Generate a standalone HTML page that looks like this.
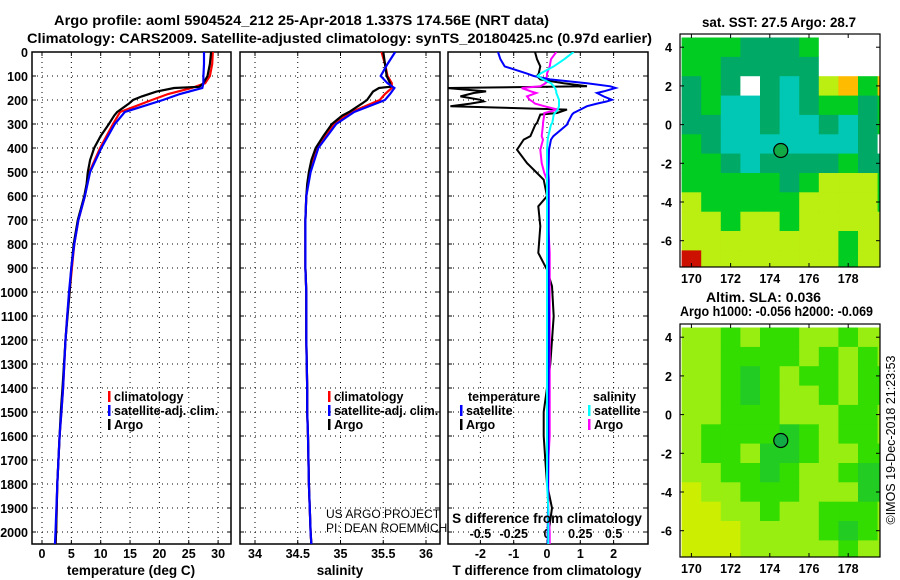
<!DOCTYPE html>
<html><head><meta charset="utf-8"><style>
html,body{margin:0;padding:0;background:#fff;}
svg{display:block;font-family:"Liberation Sans",sans-serif;}
.b{font-weight:bold;font-size:12.5px;}
.t{font-weight:bold;font-size:13.5px;}
</style></head><body>
<svg id="s" width="900" height="580" viewBox="0 0 900 580">
<text class="t" x="54" y="25" textLength="495" lengthAdjust="spacingAndGlyphs">Argo profile: aoml 5904524_212 25-Apr-2018 1.337S 174.56E (NRT data)</text>
<text class="t" x="27" y="43" textLength="625" lengthAdjust="spacingAndGlyphs">Climatology: CARS2009. Satellite-adjusted climatology: synTS_20180425.nc (0.97d earlier)</text>
<g id="maps"></g>
<g id="plots"></g>
</svg>
<script>
// ---------- data ----------
const depthC = [0,50,100,130,150,175,200,250,300,400,500,600,700,800,900,1000,1100,1200,1400,1500,1600,1800,2000,2055];
const tempClim = [29.1,29.0,28.6,27.8,25.5,21.5,18.7,13.3,12.1,9.9,8.1,7.3,6.2,5.5,5.1,4.7,4.3,4.0,3.6,3.3,3.0,2.6,2.4,2.3];
const tempSat  = [27.6,27.6,27.5,27.5,27.3,23.5,20.6,14.1,12.4,10.1,8.2,7.3,6.2,5.5,5.0,4.6,4.3,4.0,3.6,3.3,3.0,2.6,2.3,2.2];
const depthA = [0,50,100,130,145,150,165,185,200,215,250,265,300,350,400,450,500,550,600,700,800,900,1000,1200,1400,1500,1600,1800,2000,2055];
const tempArgo = [28.8,28.6,28.2,27.5,26.8,22.5,19.5,17.0,15.5,14.8,12.8,12.3,11.4,10.0,8.9,8.2,7.8,7.6,7.2,6.1,5.4,5.0,4.7,4.0,3.5,3.2,3.0,2.6,2.4,2.3];
const salClim = [35.48,35.52,35.55,35.6,35.6,35.52,35.46,35.13,34.92,34.72,34.64,34.60,34.59,34.59,34.59,34.6,34.6,34.6,34.61,34.61,34.62,34.63,34.65,34.66];
const salSat  = [35.64,35.55,35.47,35.55,35.63,35.58,35.52,35.16,34.95,34.74,34.65,34.60,34.59,34.59,34.59,34.6,34.6,34.6,34.61,34.61,34.62,34.63,34.65,34.66];
const salArgo = [35.50,35.52,35.54,35.58,35.58,35.45,35.38,35.34,35.31,35.25,35.1,35.02,34.9,34.8,34.71,34.66,34.63,34.61,34.60,34.59,34.59,34.59,34.6,34.6,34.61,34.61,34.62,34.63,34.65,34.66];
const depthD = [0,30,60,90,100,114,130,143,150,164,171,185,199,206,215,226,240,254,261,296,303,351,365,407,463,504,532,601,643,726,837,907,976,1101,1300,1500,1600,1700,1800,1900,2000,2055];
const tDiffSat  = [-1.47,-1.4,-1.27,-0.6,-0.4,0.09,1.2,1.9,2.06,1.7,1.5,1.7,1.95,1.8,1.5,1.2,1.0,0.8,0.75,0.62,0.6,0.19,0.12,0.06,0.05,0.04,0.05,0.05,0.05,0.05,0.05,0.05,0.05,0.06,0.05,0.04,0.04,0.04,0.03,0.03,0.02,0.02];
const tDiffArgo = [-0.36,-0.3,-0.2,-0.25,-0.3,-0.2,0.5,1.2,-3.0,-1.83,-2.2,-2.6,-2.0,-1.9,-2.3,-2.9,0.6,0.3,-0.2,-0.3,-0.35,-0.5,-0.7,-0.9,-0.6,-0.3,-0.1,0.0,-0.26,-0.2,-0.26,0.0,0.15,0.2,0.1,-0.1,-0.1,-0.05,0.0,0.15,0.05,0.05];
const sDiffSat  = [0.2,0.13,0.05,-0.05,-0.07,-0.03,0.03,0.05,0.06,0.07,0.07,0.08,0.09,0.09,0.09,0.09,0.08,0.06,0.05,0.04,0.03,0.01,0.005,0,0,0,0,0,0,0,0,0,0,0,0,0,0,0,0,0.01,0.01,0.01];
const sDiffArgo = [0.07,0.03,0.02,0.0,0.0,-0.01,-0.01,-0.05,-0.19,-0.12,-0.08,-0.15,-0.13,-0.11,-0.09,-0.02,0.08,-0.02,-0.02,-0.03,-0.03,-0.04,-0.03,-0.05,-0.04,-0.02,0,0,0.01,0.01,0.02,0.02,0.02,0.02,0.02,0.02,0.02,0.01,0.01,0.01,0.02,0.02];
const depthTicks = [0,100,200,300,400,500,600,700,800,900,1000,1100,1200,1300,1400,1500,1600,1700,1800,1900,2000];
const tempTicks = [0,5,10,15,20,25,30];
const salTicks = [34,34.5,35,35.5,36];
const tDiffTicks = [-2,-1,0,1,2];
const sDiffTicks = [-0.5,-0.25,0,0.25,0.5];
const lonTicks = [170,172,174,176,178];
const latTicks = [4,2,0,-2,-4,-6];
const sstRows = ["GGGMMMGWWWW","GGMMMMMWWWW","MGMWMTMYOGO","MGTTMTMGGMG","MMTTMTTMTMG","GMTTTTTTTMW","GGMTMMMMGMM","GGGGGMGYYYG","YGGGGGYYYYG","YYGYYGYYYYY","YYYYYYYYGYY","RYYYYYYYGYY"];
const slaRows = ["LLGLGGLLGLL","LLGGGGLGLGL","LLGDGLGGLGG","LLGDGLLGLGG","LLGGGLLLGGL","LGGGGDGLGGL","LGGLDDGLLGG","LLGGDGLLGDD","YLLGGGLLLDD","YYLLGLLGGGL","YYYLLLLGDGL","YYYLLLLLGLL"];
const sstCol = {G:"#00cc22",M:"#00aa66",T:"#00c8b4",Y:"#bbee11",O:"#ffbb00",R:"#cc1100",W:"#ffffff"};
const slaCol = {G:"#33dd00",D:"#22cc22",L:"#99ee11",Y:"#ccee00"};

const NS="http://www.w3.org/2000/svg";
const svg=document.getElementById('s');
function mk(tag,attrs,parent,txt){const e=document.createElementNS(NS,tag);for(const k in attrs)e.setAttribute(k,attrs[k]);if(txt!==undefined)e.textContent=txt;(parent||svg).appendChild(e);return e;}
const Y0=52, YS=0.24, YB=544;
const yD=d=>Y0+d*YS;

function panel(name,x0,x1,xf,ticks,fmt,clip){
  const g=mk('g',{},document.getElementById('plots'));
  
  
  mk('clipPath',{id:clip},g);
  mk('rect',{x:x0,y:Y0,width:x1-x0,height:YB-Y0},document.getElementById(clip));
  depthTicks.forEach(d=>{const l=mk('line',{x1:x0,x2:x1,y1:yD(d),y2:yD(d),stroke:'#000','stroke-width':1,'stroke-dasharray':'1,4'},g);
    mk('line',{x1:x0,x2:x0+4,y1:yD(d),y2:yD(d),stroke:'#000'},g);mk('line',{x1:x1-4,x2:x1,y1:yD(d),y2:yD(d),stroke:'#000'},g);});
  ticks.forEach(v=>{const x=xf(v);mk('line',{x1:x,x2:x,y1:Y0,y2:YB,stroke:'#000','stroke-dasharray':'1,4'},g);
    mk('line',{x1:x,x2:x,y1:YB-4,y2:YB,stroke:'#000'},g);mk('line',{x1:x,x2:x,y1:Y0,y2:Y0+4,stroke:'#000'},g);
    if(fmt){const t=mk('text',{x:x,y:558,class:'b','text-anchor':'middle'},g,fmt(v));}});
  mk('rect',{x:x0,y:Y0,width:x1-x0,height:YB-Y0,fill:'none',stroke:'#000','stroke-width':1.5},g);
  return g;
}
function line(g,xs,ds,xf,color,name,clip,w){
  const pts=xs.map((v,i)=>xf(v).toFixed(1)+','+yD(ds[i]).toFixed(1)).join(' ');
  const p=mk('polyline',{points:pts,fill:'none',stroke:color,'stroke-width':w||2.2,'clip-path':'url(#'+clip+')'},g);
  
  
}
function label(g,x,y,txt,name,cls,anchor){const t=mk('text',{x:x,y:y,class:cls||'b','text-anchor':anchor||'start'},g,txt);return t;}
function legend(g,x,y,color,txt,name){mk('rect',{x:x,y:y-10,width:2.5,height:11,fill:color},g);label(g,x+6,y,txt,name);}

const yl=mk('g',{});


depthTicks.forEach(d=>label(yl,28,yD(d)+5,String(d),'depth-tick-label','b','end'));

const xT=v=>42+v*5.87;
const p1=panel('temperature-panel',32,231,xT,tempTicks,v=>String(v),'c1');
line(p1,tempClim,depthC,xT,'#ff0000','temp-climatology-line','c1');
line(p1,tempArgo,depthA,xT,'#000000','temp-argo-line','c1');
line(p1,tempSat,depthC,xT,'#0000ff','temp-satellite-line','c1');
label(p1,131,575,'temperature (deg C)','x-axis-title','t','middle');
legend(p1,108,401,'#ff0000','climatology','legend-climatology');
legend(p1,108,415,'#0000ff','satellite-adj. clim.','legend-satellite');
legend(p1,108,429,'#000000','Argo','legend-argo');

const xS=v=>255+(v-34)*85.5;
const p2=panel('salinity-panel',240,440,xS,salTicks,v=>String(v),'c2');
line(p2,salClim,depthC,xS,'#ff0000','sal-climatology-line','c2');
line(p2,salArgo,depthA,xS,'#000000','sal-argo-line','c2');
line(p2,salSat,depthC,xS,'#0000ff','sal-satellite-line','c2');
label(p2,340,575,'salinity','x-axis-title','t','middle');
legend(p2,328,401,'#ff0000','climatology','legend-climatology');
legend(p2,328,415,'#0000ff','satellite-adj. clim.','legend-satellite');
legend(p2,328,429,'#000000','Argo','legend-argo');
label(p2,326,518,'US ARGO PROJECT','credit-project','x');
label(p2,326,532,'PI: DEAN ROEMMICH','credit-pi','x');
p2.querySelectorAll('text[class="x"]').forEach(t=>{t.setAttribute('style','font-size:12px;font-weight:normal');});

const xTd=v=>547+v*33.3;
const xSd=v=>547+v*133.2;
const p3=panel('difference-panel',448,648,xTd,tDiffTicks,v=>String(v),'c3');
sDiffTicks.forEach(v=>label(p3,xSd(v),538,String(v),'s-tick-label','b','middle'));
line(p3,tDiffArgo,depthD,xTd,'#000000','tdiff-argo-line','c3',2);
line(p3,sDiffArgo,depthD,xSd,'#ff00ff','sdiff-argo-line','c3',2);
line(p3,tDiffSat,depthD,xTd,'#0000ff','tdiff-satellite-line','c3',2);
line(p3,sDiffSat,depthD,xSd,'#00ffff','sdiff-satellite-line','c3',2);
label(p3,547,523,'S difference from climatology','s-axis-title','t','middle');
label(p3,547,575,'T difference from climatology','x-axis-title','t','middle');
label(p3,468,401,'temperature','legend-temperature-header');
legend(p3,460,415,'#0000ff','satellite','legend-t-satellite');
legend(p3,460,429,'#000000','Argo','legend-t-argo');
label(p3,593,401,'salinity','legend-salinity-header');
legend(p3,588,415,'#00ffff','satellite','legend-s-satellite');
legend(p3,588,429,'#ff00ff','Argo','legend-s-argo');

const mapsG=document.getElementById('maps');
function drawMap(name,top,rows,cols,clip){
  const g=mk('g',{},mapsG);
  
  
  const L=680,R=880,B=top+233;
  const xL=lon=>691.4+(lon-170)*19.6;
  const yL=lat=>top+90.6-lat*19.35;
  mk('clipPath',{id:clip},g);
  mk('rect',{x:L,y:top,width:R-L,height:B-top},document.getElementById(clip));
  const cg=mk('g',{'clip-path':'url(#'+clip+')'},g);
  rows.forEach((r,i)=>{for(let j=0;j<r.length;j++){const lat=4.5-i,lon=169.5+j;
    const c=mk('rect',{x:xL(lon).toFixed(1),y:yL(lat).toFixed(1),width:20,height:20,fill:cols[r[j]]},cg);
    
    }});
  const fl=mk('circle',{cx:xL(174.56),cy:yL(-1.337),r:7,fill:'#11aa44',stroke:'#000','stroke-width':1.2},g);
  
  
  mk('rect',{x:L,y:top,width:R-L,height:B-top,fill:'none',stroke:'#000','stroke-width':1.2},g);
  lonTicks.forEach(v=>{mk('line',{x1:xL(v),x2:xL(v),y1:B,y2:B-4,stroke:'#000'},g);mk('line',{x1:xL(v),x2:xL(v),y1:top,y2:top+4,stroke:'#000'},g);label(g,xL(v),B+16,String(v),'lon-tick-label','b','middle');});
  latTicks.forEach(v=>{mk('line',{x1:L,x2:L+4,y1:yL(v),y2:yL(v),stroke:'#000'},g);mk('line',{x1:R-4,x2:R,y1:yL(v),y2:yL(v),stroke:'#000'},g);label(g,672,yL(v)+5,String(v),'lat-tick-label','b','end');});
  return g;
}
const m1=drawMap('sst-map',34,sstRows,sstCol,'cm1');
const t1=label(m1,702,27,'sat. SST: 27.5 Argo: 28.7','sst-map-title','t','start');
t1.setAttribute('textLength','154');t1.setAttribute('lengthAdjust','spacingAndGlyphs');
const m2=drawMap('sla-map',324,slaRows,slaCol,'cm2');
const t2=label(m2,706,302,'Altim. SLA: 0.036','sla-map-title','t','start');
t2.setAttribute('textLength','115');t2.setAttribute('lengthAdjust','spacingAndGlyphs');
const t3=label(m2,680,316,'Argo h1000: -0.056 h2000: -0.069','sla-map-subtitle','t','start');
t3.setAttribute('textLength','193');t3.setAttribute('lengthAdjust','spacingAndGlyphs');
const cr=mk('text',{x:0,y:0,transform:'translate(895,440) rotate(-90)','text-anchor':'middle',style:'font-size:12.5px'},svg,'©IMOS 19-Dec-2018 21:23:53');


</script>
</body></html>
